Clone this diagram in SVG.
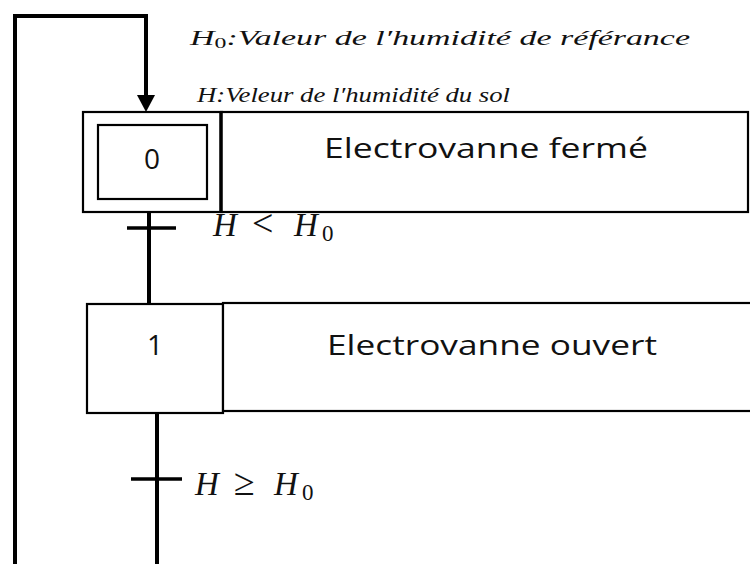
<svg xmlns="http://www.w3.org/2000/svg" width="750" height="564" viewBox="0 0 750 564">
<style>
.box{fill:#fff;stroke:#000;stroke-width:2.2}
.wire{fill:none;stroke:#000;stroke-width:4}
.bar{stroke:#000;stroke-width:3.5}
.num{font-family:"Open Sans","Noto Sans",sans-serif;font-size:28px;fill:#111;text-anchor:middle}
.act{font-family:"Open Sans","Noto Sans",sans-serif;font-size:28px;fill:#111}
.math{font-family:"Liberation Serif","DejaVu Serif",serif;font-style:italic;fill:#111}
.op{font-style:normal;font-size:38px}
.sub{font-style:normal;font-size:23px}
</style>
<rect width="750" height="564" fill="#fff"/>
<g id="connectors">
<path class="wire" d="M157,413 V564"/>
<path class="wire" d="M15,564 V16 H146 V98"/>
<path d="M137,95 L155,95 L146,112 Z" fill="#000"/>
<path class="wire" d="M149,199 V307"/>
<line class="bar" x1="127" y1="228" x2="176" y2="228"/>
<line class="bar" x1="131" y1="479" x2="182" y2="479"/>
</g>
<g id="legend">
<text class="math" x="190" y="45" font-size="20" textLength="500" lengthAdjust="spacingAndGlyphs">H<tspan font-style="normal" font-size="14" dy="3">0</tspan><tspan dy="-3">:Valeur de l′humidité de référance</tspan></text>
<text class="math" x="197" y="102" font-size="20" textLength="313" lengthAdjust="spacingAndGlyphs">H:Veleur de l′humidité du sol</text>
</g>
<g id="step0">
<rect class="box" x="83" y="112" width="139" height="100"/>
<rect class="box" x="98" y="125" width="109" height="74"/>
<text class="num" x="152" y="169">0</text>
</g>
<g id="action0">
<rect class="box" x="221" y="112" width="527" height="100"/>
<line x1="221" y1="112" x2="221" y2="212" stroke="#000" stroke-width="3.5"/>
<text class="act" x="324" y="158" textLength="324" lengthAdjust="spacingAndGlyphs">Electrovanne fermé</text>
</g>
<g id="t0">
<text class="math" y="236" font-size="33"><tspan x="213">H</tspan><tspan class="op" x="252">&lt;</tspan><tspan x="294">H</tspan><tspan class="sub" x="322" dy="5">0</tspan></text>
</g>
<g id="step1">
<rect class="box" x="87" y="304" width="136" height="109"/>
<text class="num" x="155" y="355">1</text>
</g>
<g id="action1">
<rect class="box" x="223" y="303" width="529" height="108"/>
<text class="act" x="327" y="355" textLength="330" lengthAdjust="spacingAndGlyphs">Electrovanne ouvert</text>
</g>
<g id="t1">
<text class="math" y="495" font-size="33"><tspan x="195">H</tspan><tspan class="op" x="234">≥</tspan><tspan x="274">H</tspan><tspan class="sub" x="302" dy="5">0</tspan></text>
</g>
</svg>
